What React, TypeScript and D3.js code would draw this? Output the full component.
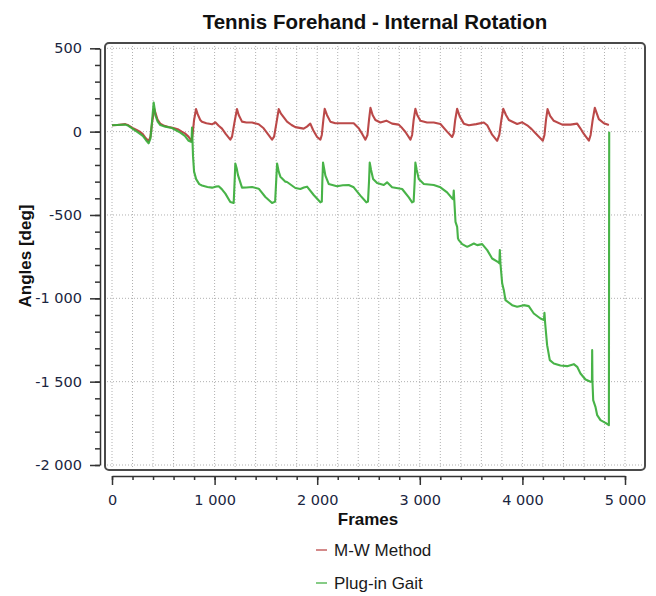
import { useEffect, useRef } from "react"
import * as d3 from "d3"

const title = "Tennis Forehand - Internal Rotation"
const xLabel = "Frames"
const yLabel = "Angles [deg]"
const seriesNames = ["M-W Method", "Plug-in Gait"]
const seriesColors = ["#b53a3a", "#38ad38"]
const legendColors = ["#d48a8a", "#86cc86"]
const xTicks = [0, 1000, 2000, 3000, 4000, 5000]
const yTicks = [500, 0, -500, -1000, -1500, -2000]

// [frame, angle]
const mwMethod: [number, number][] = [
  [0, 38], [50, 40], [130, 45], [160, 38], [200, 22], [240, 10], [275, -2], [300, -15], [330, -40],
  [357, -58], [375, -30], [392, 60], [412, 135], [425, 110], [445, 70], [470, 48], [510, 35],
  [550, 28], [600, 22], [640, 15], [680, 0], [710, -10], [745, -30], [775, -55], [785, -20],
  [800, 70], [819, 135], [835, 105], [860, 70], [877, 59], [920, 50], [975, 44], [1007, 56],
  [1040, 35], [1072, 18], [1110, -15], [1153, -48], [1170, -30], [1195, 60], [1218, 135],
  [1235, 100], [1267, 60], [1310, 55], [1365, 55], [1430, 44], [1478, 20], [1520, -15],
  [1560, -48], [1580, -30], [1605, 60], [1625, 135], [1645, 110], [1706, 60], [1750, 40],
  [1787, 27], [1868, 18], [1900, 30], [1933, 48], [1960, 10], [1999, -32], [2031, -48],
  [2045, -20], [2060, 70], [2073, 137], [2095, 100], [2128, 60], [2177, 50], [2250, 50],
  [2356, 50], [2405, 20], [2440, -15], [2470, -48], [2490, -20], [2505, 70], [2519, 143],
  [2540, 100], [2567, 70], [2616, 55], [2674, 66], [2730, 48], [2795, 42], [2830, 20],
  [2860, -2], [2909, -48], [2925, -20], [2940, 70], [2957, 137], [2975, 100], [3006, 65],
  [3071, 55], [3136, 55], [3201, 46], [3266, 0], [3315, -32], [3330, -10], [3345, 70],
  [3364, 137], [3390, 90], [3429, 48], [3478, 38], [3550, 45], [3624, 55], [3657, 38],
  [3705, -18], [3754, -55], [3775, -20], [3795, 70], [3813, 137], [3840, 100], [3868, 70],
  [3949, 46], [3998, 56], [4047, 38], [4090, 15], [4128, -10], [4199, -54], [4215, -20],
  [4230, 70], [4245, 135], [4270, 95], [4306, 65], [4388, 42], [4469, 42], [4534, 48],
  [4565, 20], [4599, -14], [4648, -54], [4665, -20], [4685, 70], [4706, 143], [4725, 110],
  [4745, 75], [4794, 50], [4843, 40],
]

const plugInGait: [number, number][] = [
  [0, 38], [50, 40], [130, 42], [160, 35], [200, 18], [260, -7], [300, -25], [330, -50],
  [357, -70], [375, -40], [390, 60], [406, 175], [415, 140], [422, 100], [445, 60], [471, 40],
  [520, 30], [585, 22], [620, 10], [666, -6], [710, -25], [747, -55], [775, -62], [780, 25],
  [790, -150], [800, -240], [820, -285], [850, -315], [877, -323], [930, -332], [975, -336],
  [1010, -330], [1040, -328], [1070, -345], [1105, -372], [1153, -422], [1186, -428],
  [1195, -300], [1202, -191], [1215, -220], [1228, -261], [1267, -336], [1310, -335],
  [1365, -332], [1430, -342], [1495, -392], [1560, -428], [1590, -420], [1600, -300],
  [1609, -191], [1625, -240], [1641, -270], [1690, -300], [1706, -302], [1787, -338],
  [1836, -344], [1870, -335], [1901, -330], [1966, -380], [2031, -424], [2045, -420],
  [2050, -300], [2057, -186], [2070, -230], [2080, -264], [2112, -314], [2193, -328],
  [2250, -322], [2307, -320], [2356, -334], [2421, -384], [2479, -424], [2495, -420],
  [2505, -300], [2512, -186], [2525, -230], [2545, -284], [2584, -308], [2649, -320],
  [2681, -304], [2730, -334], [2828, -344], [2893, -394], [2925, -424], [2940, -420],
  [2950, -300], [2957, -186], [2970, -230], [2990, -284], [3039, -314], [3136, -320],
  [3201, -334], [3266, -364], [3315, -400], [3325, -405], [3331, -354], [3336, -410],
  [3348, -541], [3364, -571], [3372, -640], [3380, -651], [3413, -675], [3462, -691],
  [3527, -671], [3559, -681], [3608, -675], [3657, -711], [3705, -761], [3760, -781],
  [3775, -790], [3780, -711], [3786, -791], [3803, -911], [3819, -951], [3835, -1011],
  [3900, -1041], [3949, -1051], [4013, -1041], [4062, -1047], [4111, -1091], [4176, -1121],
  [4210, -1130], [4215, -1087], [4222, -1151], [4241, -1281], [4267, -1371], [4306, -1391],
  [4371, -1403], [4436, -1407], [4501, -1395], [4534, -1411], [4566, -1451], [4615, -1487],
  [4664, -1501], [4678, -1500], [4680, -1311], [4683, -1501], [4690, -1611], [4712, -1651],
  [4729, -1701], [4761, -1731], [4810, -1747], [4843, -1761], [4846, 0],
]

const fmt = d3.formatLocale({
  decimal: ".",
  thousands: " ",
  grouping: [3],
  currency: ["", ""],
  minus: "-",
}).format(",")

function App() {
  const ref = useRef<SVGSVGElement>(null)

  useEffect(() => {
    const svg = d3.select(ref.current)
    svg.selectAll("*").remove()

    const x = d3.scaleLinear().domain([0, 5000]).range([112, 625])
    const y = d3.scaleLinear().domain([-2000, 500]).range([465, 48.3])
    const frame = { left: 105, top: 43, right: 645, bottom: 470 }

    // grid
    const grid = svg.append("g")
      .attr("stroke", "#b0b0b0")
      .attr("stroke-dasharray", "1 2")
      .attr("stroke-width", 1)
    grid.selectAll(".vg")
      .data(d3.range(0, 5001, 200))
      .enter()
      .append("line")
      .attr("x1", d => x(d))
      .attr("x2", d => x(d))
      .attr("y1", frame.top + 3)
      .attr("y2", frame.bottom - 2)
    grid.selectAll(".hg")
      .data(yTicks)
      .enter()
      .append("line")
      .attr("x1", frame.left + 2)
      .attr("x2", frame.right - 2)
      .attr("y1", d => y(d))
      .attr("y2", d => y(d))

    // series
    const line = d3.line<[number, number]>()
      .x(d => x(d[0]))
      .y(d => y(d[1]))
    ;[mwMethod, plugInGait].forEach((data, i) => {
      svg.append("path")
        .datum(data)
        .attr("d", line)
        .attr("fill", "none")
        .attr("stroke", seriesColors[i])
        .attr("stroke-width", 2.1)
        .attr("stroke-linejoin", "round")
        .attr("stroke-opacity", 0.92)
    })

    // plot frame
    svg.append("rect")
      .attr("x", frame.left)
      .attr("y", frame.top)
      .attr("width", frame.right - frame.left)
      .attr("height", frame.bottom - frame.top)
      .attr("rx", 4)
      .attr("fill", "none")
      .attr("stroke", "#4a4a4a")
      .attr("stroke-width", 2)

    // axes
    const yAxis = svg.append("g")
      .attr("transform", "translate(100,0)")
      .call(d3.axisLeft(y).tickValues(yTicks).tickSize(10).tickSizeOuter(0).tickPadding(8).tickFormat(d => fmt(d as number)))
    svg.append("g")
      .attr("transform", "translate(100,0)")
      .call(d3.axisLeft(y).tickValues(d3.range(-2000, 501, 100)).tickSize(5).tickSizeOuter(0).tickFormat(() => ""))
      .select(".domain").remove()

    const xAxis = svg.append("g")
      .attr("transform", "translate(0,476)")
      .call(d3.axisBottom(x).tickValues(xTicks).tickSize(9).tickSizeOuter(0).tickPadding(10).tickFormat(d => fmt(d as number)))
    svg.append("g")
      .attr("transform", "translate(0,476)")
      .call(d3.axisBottom(x).tickValues(d3.range(0, 5001, 200)).tickSize(4).tickSizeOuter(0).tickFormat(() => ""))
      .select(".domain").remove()

    svg.selectAll(".tick line, .domain").attr("stroke", "#333").attr("stroke-width", 1.5)
    ;[yAxis, xAxis].forEach(a => a.selectAll("text")
      .attr("font-family", "DejaVu Sans")
      .attr("font-size", 14.5)
      .attr("fill", "#1a2540"))

    // titles
    svg.append("text")
      .attr("x", 375)
      .attr("y", 29)
      .attr("text-anchor", "middle")
      .attr("font-family", "Liberation Sans")
      .attr("font-weight", "bold")
      .attr("font-size", 20.5)
      .attr("fill", "#111")
      .text(title)

    svg.append("text")
      .attr("x", 368)
      .attr("y", 525)
      .attr("text-anchor", "middle")
      .attr("font-family", "Liberation Sans")
      .attr("font-weight", "bold")
      .attr("font-size", 17)
      .attr("fill", "#111")
      .text(xLabel)

    svg.append("text")
      .attr("transform", "translate(31,256) rotate(-90)")
      .attr("text-anchor", "middle")
      .attr("font-family", "Liberation Sans")
      .attr("font-weight", "bold")
      .attr("font-size", 17)
      .attr("fill", "#111")
      .text(yLabel)

    // legend
    const legendItems = svg.append("g")
      .selectAll(".legend-item")
      .data(seriesNames)
      .enter()
      .append("g")
      .attr("class", "legend-item")
      .attr("transform", (d, i) => `translate(316, ${550 + i * 33})`)

    legendItems.append("line")
      .attr("x1", 0)
      .attr("x2", 11)
      .attr("stroke", (d, i) => legendColors[i])
      .attr("stroke-width", 2)

    legendItems.append("text")
      .attr("x", 18)
      .attr("y", 6)
      .attr("font-family", "Liberation Sans")
      .attr("font-size", 17)
      .attr("fill", "#1a1a1a")
      .text(d => d)
  }, [])

  return (
    <svg ref={ref} width={656} height={596} style={{ position: "absolute", left: 0, top: 0, background: "#fff" }} />
  )
}

export default App
